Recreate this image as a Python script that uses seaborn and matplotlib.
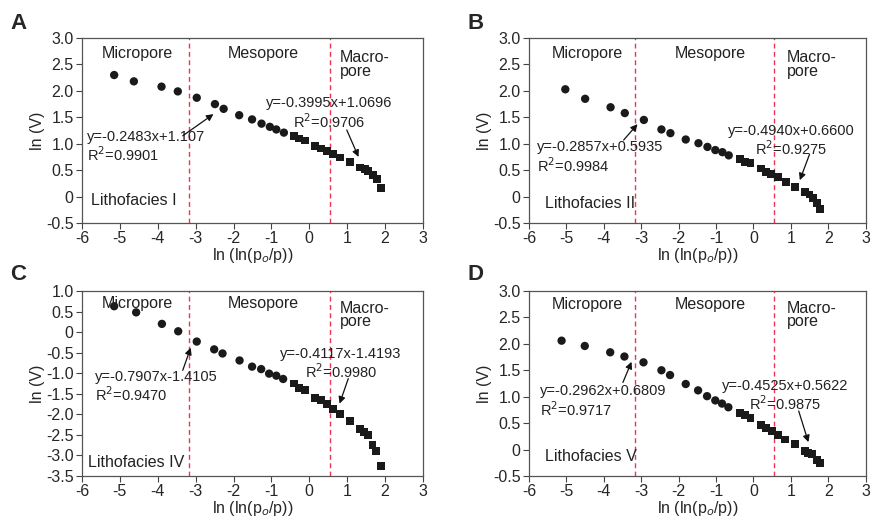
import numpy as np
import pandas as pd
import matplotlib
matplotlib.use("Agg")
import matplotlib.pyplot as plt
import seaborn as sns

sns.set_style("ticks")
plt.rcParams['font.family'] = ['Liberation Sans', 'DejaVu Sans']

# ---- datos ----
# Painel A - Lithofacies I
a_x_circ = [-5.15, -4.63, -3.90, -3.47, -2.97, -2.49, -2.26, -1.85, -1.51, -1.26, -1.04, -0.87, -0.67]
a_y_circ = [2.30, 2.18, 2.08, 1.99, 1.87, 1.75, 1.66, 1.54, 1.46, 1.38, 1.32, 1.27, 1.21]
a_x_sq = [-0.40, -0.26, -0.12, 0.16, 0.30, 0.46, 0.62, 0.82, 1.08, 1.34, 1.46, 1.56, 1.69, 1.78, 1.90]
a_y_sq = [1.14, 1.10, 1.06, 0.96, 0.91, 0.87, 0.80, 0.74, 0.65, 0.55, 0.52, 0.48, 0.41, 0.33, 0.16]

# Painel B - Lithofacies II
b_x_circ = [-5.03, -4.50, -3.82, -3.44, -2.93, -2.46, -2.22, -1.81, -1.47, -1.23, -1.02, -0.83, -0.66]
b_y_circ = [2.03, 1.85, 1.69, 1.58, 1.45, 1.27, 1.20, 1.08, 1.01, 0.94, 0.88, 0.84, 0.78]
b_x_sq = [-0.36, -0.22, -0.08, 0.20, 0.34, 0.48, 0.65, 0.86, 1.12, 1.39, 1.50, 1.60, 1.71, 1.77]
b_y_sq = [0.71, 0.66, 0.63, 0.53, 0.47, 0.42, 0.37, 0.28, 0.18, 0.08, 0.04, -0.02, -0.12, -0.24]

# Painel C - Lithofacies IV
c_x_circ = [-5.15, -4.57, -3.89, -3.46, -2.97, -2.51, -2.29, -1.84, -1.51, -1.27, -1.06, -0.87, -0.69]
c_y_circ = [0.63, 0.48, 0.20, 0.02, -0.23, -0.42, -0.52, -0.69, -0.84, -0.90, -1.01, -1.06, -1.14]
c_x_sq = [-0.41, -0.26, -0.11, 0.16, 0.30, 0.46, 0.63, 0.82, 1.08, 1.34, 1.45, 1.54, 1.67, 1.76, 1.90]
c_y_sq = [-1.25, -1.35, -1.40, -1.60, -1.65, -1.74, -1.87, -2.00, -2.17, -2.36, -2.43, -2.51, -2.74, -2.89, -3.26]

# Painel D - Lithofacies V
d_x_circ = [-5.13, -4.51, -3.83, -3.45, -2.94, -2.46, -2.23, -1.81, -1.48, -1.24, -1.02, -0.84, -0.67]
d_y_circ = [2.06, 1.96, 1.84, 1.76, 1.65, 1.50, 1.41, 1.24, 1.12, 1.01, 0.93, 0.87, 0.80]
d_x_sq = [-0.37, -0.23, -0.08, 0.20, 0.34, 0.49, 0.65, 0.85, 1.12, 1.38, 1.47, 1.56, 1.69, 1.78]
d_y_sq = [0.69, 0.65, 0.59, 0.47, 0.41, 0.35, 0.27, 0.19, 0.10, -0.02, -0.06, -0.09, -0.19, -0.26]

limites_poros = [-3.17, 0.55]
x_ticks = [-6, -5, -4, -3, -2, -1, 0, 1, 2, 3]

y_ticks_abd = [-0.5, 0, 0.5, 1.0, 1.5, 2.0, 2.5, 3.0]
y_labels_abd = ['-0.5', '0', '0.5', '1.0', '1.5', '2.0', '2.5', '3.0']
y_ticks_c = [-3.5, -3.0, -2.5, -2.0, -1.5, -1.0, -0.5, 0, 0.5, 1.0]
y_labels_c = ['-3.5', '-3.0', '-2.5', '-2.0', '-1.5', '-1.0', '-0.5', '0', '0.5', '1.0']

letras = ['A', 'B', 'C', 'D']
litofacies = ['Lithofacies I', 'Lithofacies II', 'Lithofacies IV', 'Lithofacies V']
eq_micro = ['y=-0.2483x+1.107\nR$^2$=0.9901', 'y=-0.2857x+0.5935\nR$^2$=0.9984',
            'y=-0.7907x-1.4105\nR$^2$=0.9470', 'y=-0.2962x+0.6809\nR$^2$=0.9717']
eq_macro = ['y=-0.3995x+1.0696\nR$^2$=0.9706', 'y=-0.4940x+0.6600\nR$^2$=0.9275',
            'y=-0.4117x-1.4193\nR$^2$=0.9980', 'y=-0.4525x+0.5622\nR$^2$=0.9875']

# posições dos textos (coordenadas de dados)
pos_classes_y = [2.70, 2.70, 0.70, 2.75]
pos_micro_x = [-4.53, -4.44, -4.53, -4.44]
pos_meso_x = [-1.21, -1.14, -1.21, -1.14]
pos_macro = [(0.81, 2.50), (0.90, 2.50), (0.81, 0.42), (0.90, 2.54)]
pos_eq_micro = [(-5.88, 0.94), (-5.80, 0.74), (-5.66, -1.33), (-5.71, 0.91)]
pos_eq_macro = [(0.52, 1.57), (1.01, 1.05), (0.84, -0.78), (0.86, 1.01)]
setas_micro = [((-3.34, 1.15), (-2.53, 1.56)), ((-3.47, 1.07), (-3.10, 1.37)),
               ((-3.34, -0.93), (-3.13, -0.38)), ((-3.49, 1.27), (-3.26, 1.66))]
setas_macro = [((0.99, 1.26), (1.30, 0.75)), ((1.50, 0.80), (1.24, 0.31)),
               ((1.03, -1.13), (0.80, -1.74)), ((1.21, 0.73), (1.47, 0.14))]
pos_lito = [(-5.77, -0.07), (-5.56, -0.13), (-5.83, -3.16), (-5.56, -0.14)]

paineis = [
    (a_x_circ, a_y_circ, a_x_sq, a_y_sq, y_ticks_abd, y_labels_abd),
    (b_x_circ, b_y_circ, b_x_sq, b_y_sq, y_ticks_abd, y_labels_abd),
    (c_x_circ, c_y_circ, c_x_sq, c_y_sq, y_ticks_c, y_labels_c),
    (d_x_circ, d_y_circ, d_x_sq, d_y_sq, y_ticks_abd, y_labels_abd),
]

fig = plt.figure(figsize=(8.72, 5.23), dpi=100)
caixas = [
    [0.094, 0.5736, 0.391, 0.3537],
    [0.6067, 0.5736, 0.386, 0.3537],
    [0.094, 0.0899, 0.391, 0.3537],
    [0.6067, 0.0899, 0.386, 0.3537],
]
pos_letras = [(0.012, 0.975), (0.536, 0.975), (0.012, 0.495), (0.536, 0.495)]

fs_txt = 11.5
fs_eq = 10.5

for i, (xc, yc, xs, ys, yt, yl) in enumerate(paineis):
    ax = fig.add_axes(caixas[i])
    df_c = pd.DataFrame({'x': xc, 'y': yc})
    df_s = pd.DataFrame({'x': xs, 'y': ys})
    sns.scatterplot(data=df_c, x='x', y='y', ax=ax, marker='o', s=36, color='#1a1a1a',
                    edgecolor='none', zorder=3)
    sns.scatterplot(data=df_s, x='x', y='y', ax=ax, marker='s', s=32, color='#1a1a1a',
                    edgecolor='none', zorder=3)

    for xv in limites_poros:
        ax.axvline(xv, color='#ee3355', lw=1.0, ls=(0, (3.5, 2.5)), zorder=1)

    ax.set_xlim(-6, 3)
    ax.set_ylim(yt[0], yt[-1])
    ax.set_xticks(x_ticks)
    ax.set_xticklabels([str(t) for t in x_ticks])
    ax.set_yticks(yt)
    ax.set_yticklabels(yl)
    ax.tick_params(axis='both', labelsize=fs_txt, direction='out', length=4, width=0.8,
                   color='#444444', pad=2)
    for sp in ax.spines.values():
        sp.set_visible(True)
        sp.set_color('#555555')
        sp.set_linewidth(0.9)

    ax.set_xlabel('ln (ln(p$_o$/p))', fontsize=fs_txt, labelpad=0)
    ax.set_ylabel('ln (V)', fontsize=fs_txt, labelpad=1)

    yc_txt = pos_classes_y[i]
    ax.text(pos_micro_x[i], yc_txt, 'Micropore', fontsize=fs_txt, ha='center', va='center', color='#222222')
    ax.text(pos_meso_x[i], yc_txt, 'Mesopore', fontsize=fs_txt, ha='center', va='center', color='#222222')
    ax.text(pos_macro[i][0], pos_macro[i][1], 'Macro-\npore', fontsize=fs_txt, ha='left', va='center',
            color='#222222', linespacing=0.85)

    ax.text(pos_eq_micro[i][0], pos_eq_micro[i][1], eq_micro[i], fontsize=fs_eq, ha='left', va='center',
            color='#222222', linespacing=1.1)
    ax.text(pos_eq_macro[i][0], pos_eq_macro[i][1], eq_macro[i], fontsize=fs_eq, ha='center', va='center',
            color='#222222', linespacing=1.1, multialignment='center')

    for ini, fim in (setas_micro[i], setas_macro[i]):
        ax.annotate('', xy=fim, xytext=ini,
                    arrowprops=dict(arrowstyle='-|>', color='#111111', lw=0.9, mutation_scale=10,
                                    shrinkA=0, shrinkB=0))

    ax.text(pos_lito[i][0], pos_lito[i][1], litofacies[i], fontsize=fs_txt, ha='left', va='center',
            color='#222222')

    fig.text(pos_letras[i][0], pos_letras[i][1], letras[i], fontsize=16, fontweight='bold',
             ha='left', va='top')

plt.savefig('out.png', dpi=100)
plt.close()
